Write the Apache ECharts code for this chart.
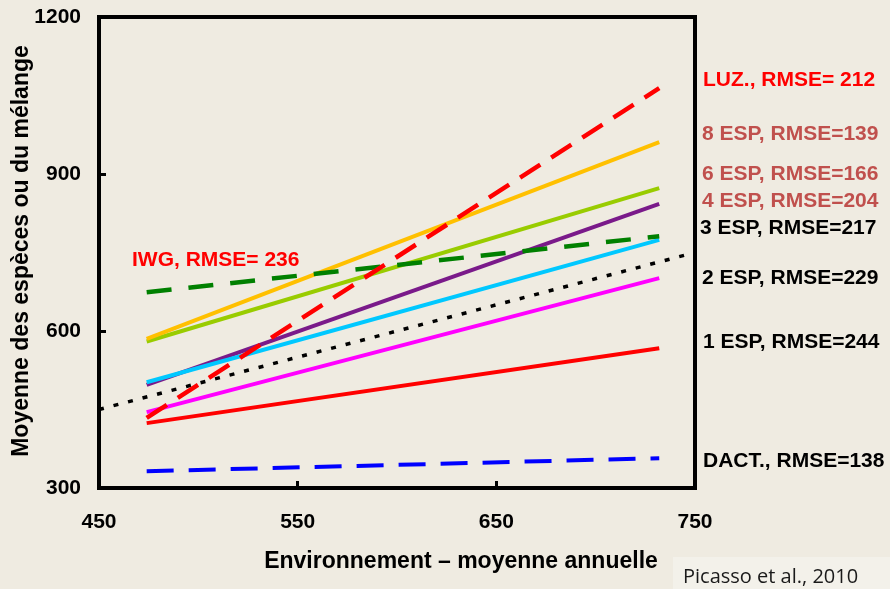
<!DOCTYPE html>
<html>
<head>
<meta charset="utf-8">
<script src="https://cdn.jsdelivr.net/npm/echarts@6/dist/echarts.min.js"></script>
<style>
html,body{margin:0;padding:0;background:#efebe1;}
#c{width:890px;height:589px;}
</style>
</head>
<body>
<div id="c"></div>
<script>
// x positions of the regression lines (environment mean)
const lineX = [474, 732];
const oneToOneX = [450, 745];
const oneToOneY = [450, 745];
const luz  = [434, 1064];
const esp8 = [585, 961];
const esp6 = [580, 873];
const esp4 = [497, 843];
const esp3 = [502, 774];
const esp2 = [445, 701];
const esp1 = [424, 567];
const dact = [332, 357];
const iwg  = [674, 781];
const xTicks = [450, 550, 650, 750];
const yTicks = [300, 600, 900, 1200];

const labels = [
  {text: 'LUZ., RMSE= 212', color: '#ff0000', x: 703, y: 80},
  {text: '8 ESP, RMSE=139', color: '#c0504d', x: 702, y: 134},
  {text: '6 ESP, RMSE=166', color: '#c0504d', x: 702, y: 174},
  {text: '4 ESP, RMSE=204', color: '#c0504d', x: 702, y: 201},
  {text: '3 ESP, RMSE=217', color: '#000000', x: 700, y: 228},
  {text: '2 ESP, RMSE=229', color: '#000000', x: 702, y: 278},
  {text: '1 ESP, RMSE=244', color: '#000000', x: 703, y: 342},
  {text: 'DACT., RMSE=138', color: '#000000', x: 703, y: 461},
  {text: 'IWG, RMSE= 236', color: '#ff0000', x: 132, y: 260}
];

function pts(xs, ys){ return xs.map((x,i)=>[x, ys[i]]); }

function line(name, xs, ys, color, type, width){
  return {
    name, type: 'line', data: pts(xs, ys), symbol: 'none', silent: true,
    lineStyle: {color, width: width || 3.5, type: type || 'solid', cap: 'butt'},
    animation: false
  };
}

const chart = echarts.init(document.getElementById('c'), null, {renderer: 'canvas'});
const font = '"Liberation Sans", Arial, sans-serif';
chart.setOption({
  backgroundColor: '#efebe1',
  animation: false,
  grid: {left: 99, right: 195, top: 17, bottom: 101, show: true, borderColor: '#000', borderWidth: 4, backgroundColor: 'transparent'},
  xAxis: {
    type: 'value', min: 450, max: 750, interval: 100,
    axisLine: {show: true, lineStyle: {color: '#000', width: 4}},
    axisTick: {show: true, inside: true, length: 7, lineStyle: {color: '#000', width: 3}},
    splitLine: {show: false},
    axisLabel: {margin: 24, color: '#000', fontSize: 21, fontWeight: 'bold', fontFamily: font,
      formatter: v => xTicks.includes(v) ? String(v) : ''}
  },
  yAxis: {
    type: 'value', min: 300, max: 1200, interval: 300,
    axisLine: {show: true, lineStyle: {color: '#000', width: 4}},
    axisTick: {show: true, inside: true, length: 7, lineStyle: {color: '#000', width: 3}},
    splitLine: {show: false},
    axisLabel: {margin: 18, color: '#000', fontSize: 21, fontWeight: 'bold', fontFamily: font,
      formatter: v => yTicks.includes(v) ? String(v) : ''}
  },
  series: [
    line('1:1', oneToOneX, oneToOneY, '#000000', [5, 10], 3.5),
    line('DACT.', lineX, dact, '#0000ff', [27, 15], 4),
    line('1 ESP', lineX, esp1, '#ff0000', 'solid', 4),
    line('2 ESP', lineX, esp2, '#ff00ff', 'solid', 4),
    line('4 ESP', lineX, esp4, '#7a1a8a', 'solid', 4),
    line('3 ESP', lineX, esp3, '#00c8ff', 'solid', 4),
    line('6 ESP', lineX, esp6, '#99cc00', 'solid', 4),
    line('8 ESP', lineX, esp8, '#ffc000', 'solid', 4),
    line('IWG', lineX, iwg, '#008000', [25, 17], 4.5),
    line('LUZ.', lineX, luz, '#ff0000', [24, 13], 4.5)
  ],
  graphic: [
    {type: 'rect', shape: {x: 673, y: 557, width: 217, height: 32}, style: {fill: '#f3f1ea'}, silent: true, z: -1},
    {type: 'text', x: 683, y: 577, style: {text: 'Picasso et al., 2010', font: '20px "Open Sans", "Liberation Sans", sans-serif', fill: '#1a1a1a', verticalAlign: 'middle', align: 'left'}},
    {type: 'text', x: 461, y: 562, style: {text: 'Environnement – moyenne annuelle', font: 'bold 23px ' + font, fill: '#000', align: 'center', verticalAlign: 'middle'}},
    {type: 'text', x: 22, y: 251, rotation: Math.PI / 2, style: {text: 'Moyenne des espèces ou du mélange', font: 'bold 23px ' + font, fill: '#000', align: 'center', verticalAlign: 'middle'}}
  ].concat(labels.map(l => ({
    type: 'text', x: l.x, y: l.y,
    style: {text: l.text, font: 'bold 21px ' + font, fill: l.color, align: 'left', verticalAlign: 'middle'}
  })))
});
</script>
</body>
</html>
